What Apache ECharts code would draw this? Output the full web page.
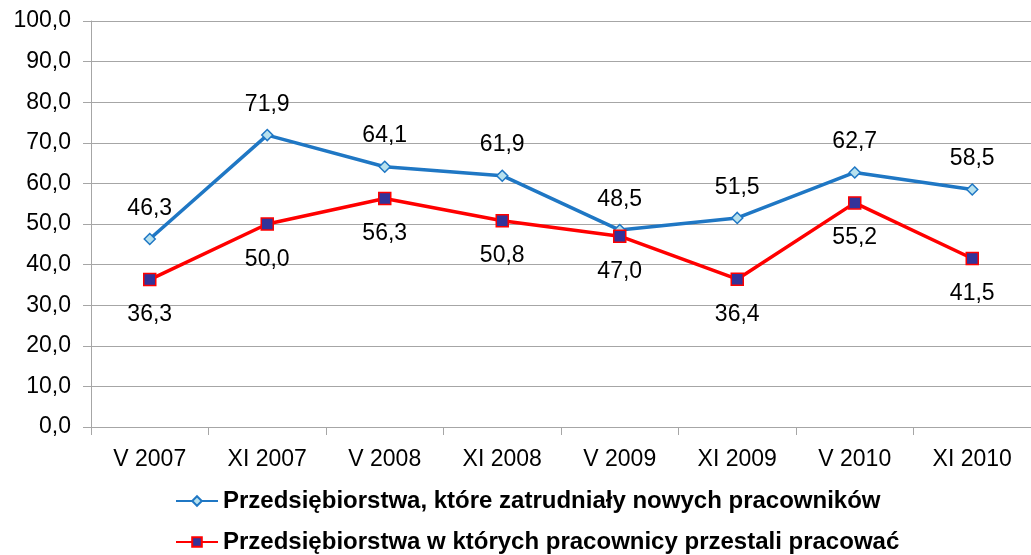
<!DOCTYPE html>
<html>
<head>
<meta charset="utf-8">
<script src="https://cdn.jsdelivr.net/npm/echarts@6/dist/echarts.min.js"></script>
<style>
  html, body { margin: 0; padding: 0; background: #fff; }
  #chart { width: 1031px; height: 555px; }
</style>
</head>
<body>
<div id="chart"></div>
<script>
const categories = ["V 2007", "XI 2007", "V 2008", "XI 2008", "V 2009", "XI 2009", "V 2010", "XI 2010"];
const hiredNames = "Przedsiębiorstwa, które zatrudniały nowych pracowników";
const hiredValues = [46.3, 71.9, 64.1, 61.9, 48.5, 51.5, 62.7, 58.5];
const leftNames = "Przedsiębiorstwa w których pracownicy przestali pracować";
const leftValues = [36.3, 50.0, 56.3, 50.8, 47.0, 36.4, 55.2, 41.5];

const fmt = v => v.toFixed(1).replace(".", ",");
const font = "'Liberation Sans', Arial, sans-serif";

const legendBase = {
  orient: "horizontal",
  left: 170,
  itemWidth: 42,
  itemHeight: 12,
  textStyle: { fontSize: 24, fontWeight: "bold", color: "#000", fontFamily: font }
};

const chart = echarts.init(document.getElementById("chart"));
chart.setOption({
  animation: false,
  textStyle: { fontFamily: font },
  grid: { left: 91, right: -11, top: 21, bottom: 128 },
  legend: [
    Object.assign({}, legendBase, { top: 484, data: [hiredNames] }),
    Object.assign({}, legendBase, { top: 525, data: [leftNames] })
  ],
  xAxis: {
    type: "category",
    data: categories,
    axisLine: { lineStyle: { color: "#a6a6a6" } },
    axisTick: { show: true, length: 8, lineStyle: { color: "#a6a6a6" } },
    axisLabel: { color: "#000", fontSize: 23, margin: 21, fontFamily: font }
  },
  yAxis: {
    type: "value",
    min: 0,
    max: 100,
    interval: 10,
    axisLine: { show: true, lineStyle: { color: "#a6a6a6" } },
    axisTick: { show: true, length: 8, lineStyle: { color: "#a6a6a6" } },
    splitLine: { lineStyle: { color: "#a6a6a6" } },
    axisLabel: { color: "#000", fontSize: 23, margin: 20, formatter: v => fmt(v), fontFamily: font }
  },
  series: [
    {
      name: hiredNames,
      type: "line",
      data: hiredValues,
      symbol: "diamond",
      symbolSize: 11,
      lineStyle: { color: "#1f77c4", width: 3.5 },
      itemStyle: { color: "#b7e1ee", borderColor: "#1f77c4", borderWidth: 1.5 },
      label: {
        show: true,
        position: "top",
        distance: 13,
        formatter: p => fmt(p.value),
        fontSize: 23,
        color: "#000",
        fontFamily: font
      }
    },
    {
      name: leftNames,
      type: "line",
      data: leftValues,
      symbol: "rect",
      symbolSize: 12,
      lineStyle: { color: "#ff0000", width: 3.5 },
      itemStyle: { color: "#333399", borderColor: "#ff0000", borderWidth: 1.5 },
      label: {
        show: true,
        position: "bottom",
        distance: 17,
        formatter: p => fmt(p.value),
        fontSize: 23,
        color: "#000",
        fontFamily: font
      }
    }
  ]
});
</script>
</body>
</html>
